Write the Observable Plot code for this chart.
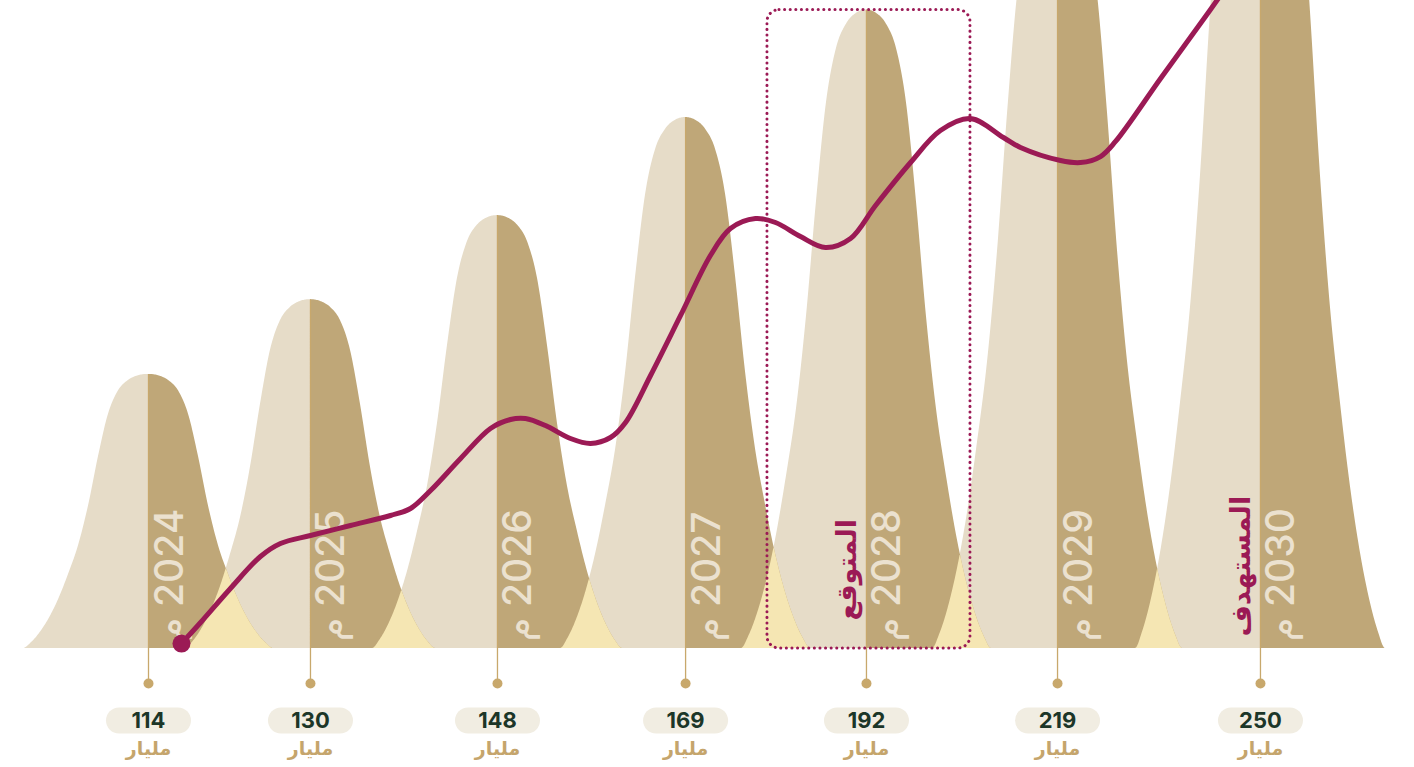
<!DOCTYPE html>
<html>
<head>
<meta charset="utf-8">
<script src="https://cdn.jsdelivr.net/npm/d3@7"></script>
<script src="https://cdn.jsdelivr.net/npm/@observablehq/plot@0.6"></script>
<style>
  body { margin: 0; background: #ffffff; }
  #chart svg { display: block; }
</style>
</head>
<body>
<div id="chart"></div>
<script>
// ---------- data ----------
const years = [2024, 2025, 2026, 2027, 2028, 2029, 2030];
const yearPos = [2024, 2024.874, 2025.883, 2026.898, 2027.874, 2028.905, 2030]; // horizontal placement
const values = [114, 130, 148, 169, 192, 219, 250];           // billions
const valueLabels = ["114", "130", "148", "169", "192", "219", "250"];
const unitLabel = "مليار";
const yearSuffix = "م";
const noteYears = [2028, 2030];
const noteLabels = ["المتوقع", "المستهدف"];
const baseValue = 55.3;                                        // value at the bells' baseline

// bell silhouette: half-width offset (px) -> share of the peak height
const profileD = [0, 10, 20, 30, 40, 50, 60, 70, 80, 90, 100, 110, 118, 125];
const profileF = [1, 0.995, 0.978, 0.94, 0.855, 0.70, 0.52, 0.375, 0.27, 0.178, 0.105, 0.05, 0.018, 0];

// decorative trend line (x in year units, y in billions)
const lineX = [2024.178, 2024.281, 2024.442, 2024.604, 2024.712, 2024.874, 2025.090, 2025.306, 2025.414,
  2025.522, 2025.684, 2025.845, 2025.953, 2026.034, 2026.142, 2026.277, 2026.385, 2026.493, 2026.574,
  2026.709, 2026.871, 2027.032, 2027.140, 2027.275, 2027.383, 2027.518, 2027.653, 2027.788, 2027.923,
  2028.112, 2028.273, 2028.435, 2028.613, 2028.705, 2028.921, 2029.029, 2029.137, 2029.218, 2029.461,
  2029.676, 2029.811];
const lineY = [56.37, 60.87, 68.15, 75.00, 77.78, 79.50, 81.64, 83.78, 85.28,
  89.13, 95.99, 102.41, 104.34, 104.55, 103.05, 100.27, 99.20, 100.48, 103.69,
  113.76, 126.61, 139.45, 145.24, 147.38, 146.52, 143.52, 141.17, 143.09, 150.16,
  159.37, 166.22, 168.79, 164.72, 162.58, 159.80, 159.37, 160.65, 163.87, 177.36,
  189.13, 196.63];

// ---------- layout ----------
const W = 1414, H = 767;
const xDomain = [2023.2014, 2030.8311];
const yDomain = [29.82, 194.06];
const pxPerYear = W / (xDomain[1] - xDomain[0]);
const pxPerValue = H / (yDomain[1] - yDomain[0]);

const C = {
  light: "#e6dcc8",
  dark: "#bfa778",
  overlap: "#f5e6b3",
  magenta: "#9b1a55",
  tan: "#c8a86c",
  yearText: "#ebe1cf",
  pill: "#f1ede2",
  num: "#1c3628",
  unit: "#c5a56c"
};

// monotone cubic interpolation of the silhouette
function monotone(xs, ys) {
  const n = xs.length, dx = [], m = [], t = new Array(n);
  for (let i = 0; i < n - 1; i++) { dx[i] = xs[i + 1] - xs[i]; m[i] = (ys[i + 1] - ys[i]) / dx[i]; }
  t[0] = 0; t[n - 1] = 0;
  for (let i = 1; i < n - 1; i++) t[i] = m[i - 1] * m[i] <= 0 ? 0 : (m[i - 1] + m[i]) / 2;
  for (let i = 0; i < n - 1; i++) {
    if (m[i] === 0) { t[i] = t[i + 1] = 0; continue; }
    const a = t[i] / m[i], b = t[i + 1] / m[i], s = a * a + b * b;
    if (s > 9) { const tau = 3 / Math.sqrt(s); t[i] = tau * a * m[i]; t[i + 1] = tau * b * m[i]; }
  }
  return x => {
    if (x <= xs[0]) return ys[0];
    if (x >= xs[n - 1]) return ys[n - 1];
    let i = 0; while (x > xs[i + 1]) i++;
    const h = dx[i], s = (x - xs[i]) / h, s2 = s * s, s3 = s2 * s;
    return (2 * s3 - 3 * s2 + 1) * ys[i] + (s3 - 2 * s2 + s) * h * t[i] + (-2 * s3 + 3 * s2) * ys[i + 1] + (s3 - s2) * h * t[i + 1];
  };
}
const profile = monotone(profileD, profileF);
function bell(c, v, x) {
  return baseValue + (v - baseValue) * Math.max(0, profile(Math.abs(x - c) * pxPerYear));
}
const span = profileD[profileD.length - 1] / pxPerYear;
const N = 150;

const leftHalves = [], rightHalves = [], overlaps = [];
years.forEach((yr, i) => {
  const c = yearPos[i], v = values[i];
  for (let k = 0; k <= N; k++) {
    const t = k / N;
    const xl = c - span * (1 - t);
    leftHalves.push({year: yr, x: xl, y: bell(c, v, xl)});
    const xr = c + span * t;
    rightHalves.push({year: yr, x: xr, y: bell(c, v, xr)});
  }
  if (i < years.length - 1) {
    const c2 = yearPos[i + 1], v2 = values[i + 1];
    for (let k = 0; k <= 300; k++) {
      const x = c + (c2 - c) * k / 300;
      overlaps.push({pair: yr, x, y: Math.min(bell(c, v, x), bell(c2, v2, x))});
    }
  }
});

const trend = lineX.map((x, i) => ({x, y: lineY[i]}));
const rows = years.map((yr, i) => ({year: yr, pos: yearPos[i], value: values[i], label: valueLabels[i]}));
const notes = noteYears.map((yr, i) => ({year: yr, pos: yearPos[years.indexOf(yr)], label: noteLabels[i]}));
const highlight = rows.filter(d => d.year === 2028);

const pill = {
  draw(ctx) {
    const w = 42.5, h = 13;
    ctx.moveTo(-w + h, -h);
    ctx.lineTo(w - h, -h);
    ctx.arc(w - h, 0, h, -Math.PI / 2, Math.PI / 2);
    ctx.lineTo(-w + h, h);
    ctx.arc(-w + h, 0, h, Math.PI / 2, 3 * Math.PI / 2);
    ctx.closePath();
  }
};

const font = "Inter, 'DejaVu Sans', sans-serif";
const arabicFont = "'DejaVu Sans', sans-serif";

const chart = Plot.plot({
  width: W,
  height: H,
  marginTop: 0, marginRight: 0, marginBottom: 0, marginLeft: 0,
  x: {type: "linear", domain: xDomain, axis: null},
  y: {type: "linear", domain: yDomain, axis: null},
  style: {background: "#ffffff", fontFamily: font},
  marks: [
    Plot.areaY(leftHalves, {x: "x", y1: baseValue, y2: "y", z: "year", fill: C.light}),
    Plot.areaY(rightHalves, {x: "x", y1: baseValue, y2: "y", z: "year", fill: C.dark}),
    Plot.areaY(overlaps, {x: "x", y1: baseValue, y2: "y", z: "pair", fill: C.overlap}),
    Plot.ruleX(rows, {x: "pos", y1: d => baseValue - 35 / pxPerValue, y2: "value", stroke: C.tan, strokeWidth: 1.3}),
    Plot.text(rows, {
      x: "pos", y: baseValue, text: d => `${yearSuffix}\u200E ${d.year}`,
      rotate: -90, textAnchor: "start", lineAnchor: "bottom", dx: 34, dy: -7,
      fontSize: 39, fontWeight: 500, fill: C.yearText, fontFamily: font
    }),
    Plot.text(notes.filter(d => d.year === 2028), {
      x: "pos", y: baseValue, text: "label", rotate: -90, textAnchor: "start", lineAnchor: "bottom",
      dx: -10, dy: -28, fontSize: 27, fontWeight: "bold", fill: C.magenta, fontFamily: arabicFont
    }),
    Plot.text(notes.filter(d => d.year === 2030), {
      x: "pos", y: baseValue, text: "label", rotate: -90, textAnchor: "start", lineAnchor: "bottom",
      dx: -10, dy: -12, fontSize: 27, fontWeight: "bold", fill: C.magenta, fontFamily: arabicFont
    }),
    Plot.rect(highlight, {
      x1: d => d.pos - 99 / pxPerYear, x2: d => d.pos + 104 / pxPerYear,
      y1: baseValue, y2: "value", rx: 12, fill: "none",
      stroke: C.magenta, strokeWidth: 3, strokeDasharray: "0.1 5.5", strokeLinecap: "round"
    }),
    Plot.line(trend, {x: "x", y: "y", curve: "catmull-rom", stroke: C.magenta, strokeWidth: 5, strokeLinecap: "round", strokeLinejoin: "round"}),
    Plot.dot(trend.slice(0, 1), {x: "x", y: "y", r: 9, fill: C.magenta, stroke: "none"}),
    Plot.dot(rows, {x: "pos", y: baseValue, dy: 35, r: 5, fill: C.tan, stroke: "none"}),
    Plot.dot(rows, {x: "pos", y: baseValue, dy: 72, symbol: pill, fill: C.pill, stroke: "none"}),
    Plot.text(rows, {
      x: "pos", y: baseValue, text: "label", dy: 72, lineAnchor: "middle",
      fontSize: 22, fontWeight: "bold", fill: C.num, fontFamily: font
    }),
    Plot.text(rows, {
      x: "pos", y: baseValue, text: () => unitLabel, dy: 100, lineAnchor: "middle",
      fontSize: 19, fontWeight: "bold", fill: C.unit, fontFamily: arabicFont
    })
  ]
});
document.getElementById("chart").appendChild(chart);
</script>
</body>
</html>
